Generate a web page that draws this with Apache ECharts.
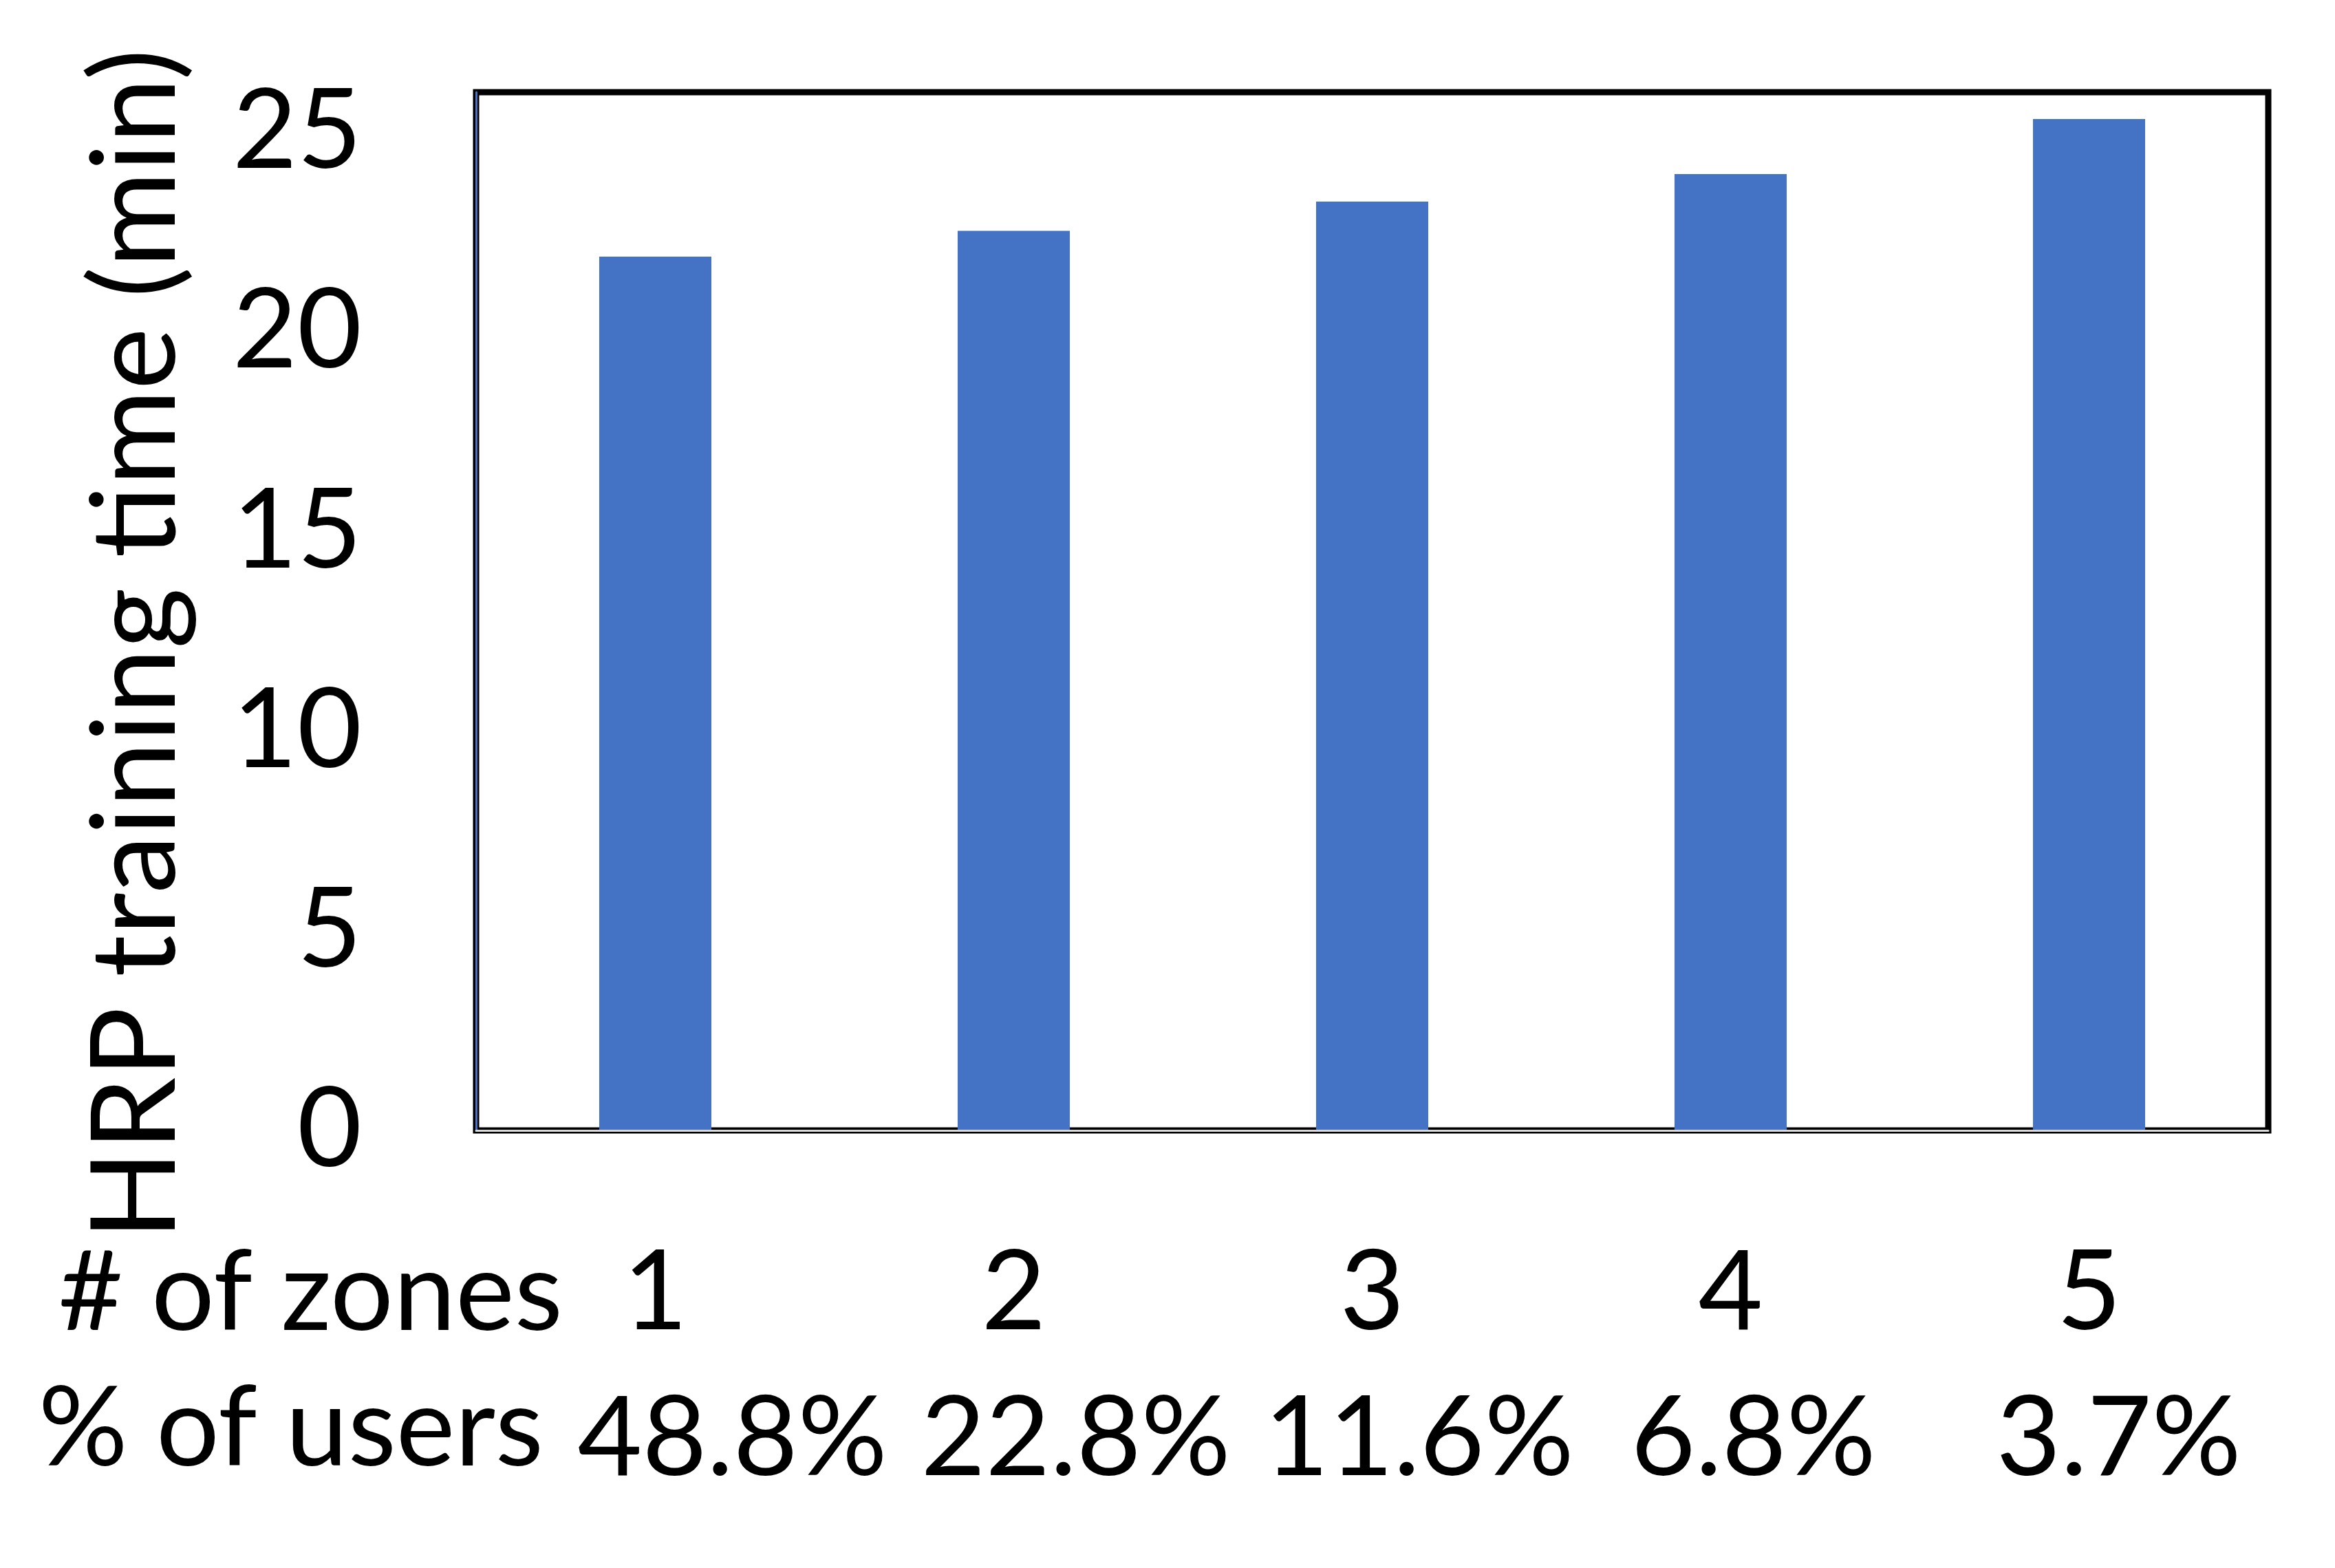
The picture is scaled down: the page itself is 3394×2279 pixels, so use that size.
<!DOCTYPE html>
<html>
<head>
<meta charset="utf-8">
<script src="https://cdn.jsdelivr.net/npm/echarts@6/dist/echarts.min.js"></script>
<style>
html,body{margin:0;padding:0;background:#fff;}
#chart{width:3394px;height:2279px;}
</style>
</head>
<body>
<div id="chart"></div>
<script>
const zones = ['1', '2', '3', '4', '5'];
const userShares = ['48.8%', '22.8%', '11.6%', '6.8%', '3.7%'];
const trainingTime = [21.88, 22.53, 23.26, 23.95, 25.33];
const yTicks = [0, 5, 10, 15, 20, 25];
const yAxisTitle = 'HRP training time (min)';
const row1Title = '# of zones';
const row2Title = '% of users';

const FONT = 'Lato';
const FS = 162;
const sharePad = [224, 180, 136, 66, 86];

const rich = {};
sharePad.forEach((p, i) => {
  rich['p' + i] = { fontFamily: FONT, fontSize: FS, color: '#000', padding: [0, 0, 0, p] };
});

const chart = echarts.init(document.getElementById('chart'));
chart.setOption({
  animation: false,
  backgroundColor: '#fff',
  grid: {
    left: 692, right: 97, top: 134, bottom: 636,
    show: true, borderColor: '#000', borderWidth: 9, backgroundColor: 'transparent'
  },
  xAxis: [
    {
      type: 'category', data: zones, position: 'bottom', z: 5,
      axisLine: { show: true, lineStyle: { color: '#d9d9d9', width: 3 } },
      axisTick: { show: false },
      axisLabel: { fontFamily: FONT, fontSize: FS, color: '#000', margin: 156 }
    },
    {
      type: 'category', data: userShares, position: 'bottom', offset: 218,
      axisLine: { show: false }, axisTick: { show: false },
      axisLabel: {
        margin: 150,
        formatter: (v, i) => '{p' + i + '|' + v + '}',
        rich: rich
      }
    }
  ],
  yAxis: {
    type: 'value', min: 0, max: 26, interval: 5, z: 5,
    axisLine: { show: true, lineStyle: { color: '#4472C4', width: 3 } },
    axisTick: { show: false },
    splitLine: { show: false },
    axisLabel: {
      fontFamily: FONT, fontSize: FS, color: '#000', margin: 166,
      formatter: v => (yTicks.indexOf(v) >= 0 ? String(v) : '')
    },
    name: yAxisTitle,
    nameLocation: 'middle',
    nameGap: 408,
    nameRotate: 90,
    nameTextStyle: { fontFamily: FONT, fontSize: 170, color: '#000', padding: [0, 96, 0, 0] }
  },
  series: [{
    type: 'bar', data: trainingTime, barWidth: '31.3%', xAxisIndex: 0,
    itemStyle: { color: '#4472C4' }
  }],
  graphic: [
    { type: 'text', right: 3394 - 818, top: 1868 - 68,
      style: { text: row1Title, font: FS + 'px ' + FONT, fill: '#000' } },
    { type: 'text', right: 3394 - 790, top: 2082 - 85,
      style: { text: row2Title, font: FS + 'px ' + FONT, fill: '#000' } }
  ]
});
</script>
</body>
</html>
